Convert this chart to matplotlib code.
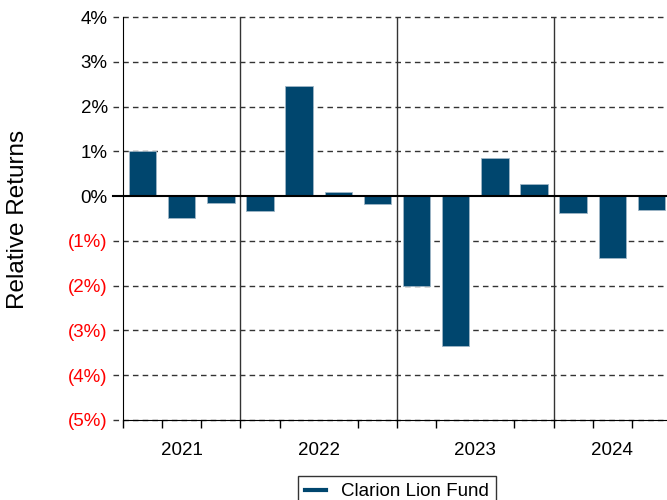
import matplotlib.pyplot as plt
from matplotlib.lines import Line2D

plt.rcParams['font.family'] = ['Liberation Sans', 'DejaVu Sans']

# Data: quarterly relative returns (%)
quarters = ["2021 Q2", "2021 Q3", "2021 Q4",
            "2022 Q1", "2022 Q2", "2022 Q3", "2022 Q4",
            "2023 Q1", "2023 Q2", "2023 Q3", "2023 Q4",
            "2024 Q1", "2024 Q2", "2024 Q3"]
returns = [1.00, -0.48, -0.15,
           -0.33, 2.46, 0.10, -0.17,
           -2.00, -3.35, 0.86, 0.26,
           -0.38, -1.38, -0.30]
years = ["2021", "2022", "2023", "2024"]
quarters_per_year = [3, 4, 4, 3]
yticks = [4, 3, 2, 1, 0, -1, -2, -3, -4, -5]

bar_color = "#00466e"

fig = plt.figure(figsize=(6.67, 5), dpi=100)
ax = fig.add_axes([123 / 667, 80 / 500, 548 / 667, 403 / 500])

x = list(range(len(quarters)))
ax.bar(x, returns, width=0.7, color=bar_color, edgecolor="#9fb6c6", linewidth=0.6, zorder=3)

ax.set_xlim(-0.5, len(quarters) - 0.5)
ax.set_ylim(-5, 4)

# dashed gridlines that reach past the left spine like tick marks
for v in yticks:
    if v == 0:
        continue
    ax.plot([-0.018, 1], [v, v], transform=ax.get_yaxis_transform(), color="#333333",
            lw=1, dashes=(4, 3), clip_on=False, zorder=1)
ax.plot([-0.018, 1], [0, 0], transform=ax.get_yaxis_transform(), color="black",
        lw=1.5, clip_on=False, zorder=4)

# year separators
starts = []
pos = -0.5
for n in quarters_per_year:
    starts.append(pos)
    pos += n
for s in starts[1:]:
    ax.axvline(s, color="#333333", lw=1, zorder=2)

# x ticks: minor at quarter boundaries, labels at year centres
centers = [s + n / 2 for s, n in zip(starts, quarters_per_year)]
ax.set_xticks(centers)
ax.set_xticklabels(years, fontsize=13.5)
ax.tick_params(axis="x", which="major", length=0, pad=16)
ax.set_xticks([b - 0.5 for b in range(len(quarters) + 1)], minor=True)
ax.tick_params(axis="x", which="minor", length=6, width=1, color="black")

# y ticks
ax.set_yticks(yticks)
labels = [f"{v}%" if v >= 0 else f"({-v}%)" for v in yticks]
ax.set_yticklabels(labels, fontsize=13.5)
for lab, v in zip(ax.get_yticklabels(), yticks):
    lab.set_color("black" if v >= 0 else "#ff0000")
ax.tick_params(axis="y", length=0, pad=11)

for side in ["top", "right"]:
    ax.spines[side].set_visible(False)
ax.spines["left"].set_color("black")
ax.spines["bottom"].set_color("black")

fig.text(18 / 667, 1 - 219 / 500, "Relative Returns", rotation=90, fontsize=17.5,
         ha="center", va="center")

handle = Line2D([], [], color=bar_color, lw=3)
leg = ax.legend([handle], ["Clarion Lion Fund"], loc="upper center",
                bbox_to_anchor=(0.5, -0.115), fontsize=13.5, frameon=True,
                fancybox=False, edgecolor="black", handlelength=1.1)
leg.get_frame().set_linewidth(1)

fig.savefig("out.png", dpi=100)
